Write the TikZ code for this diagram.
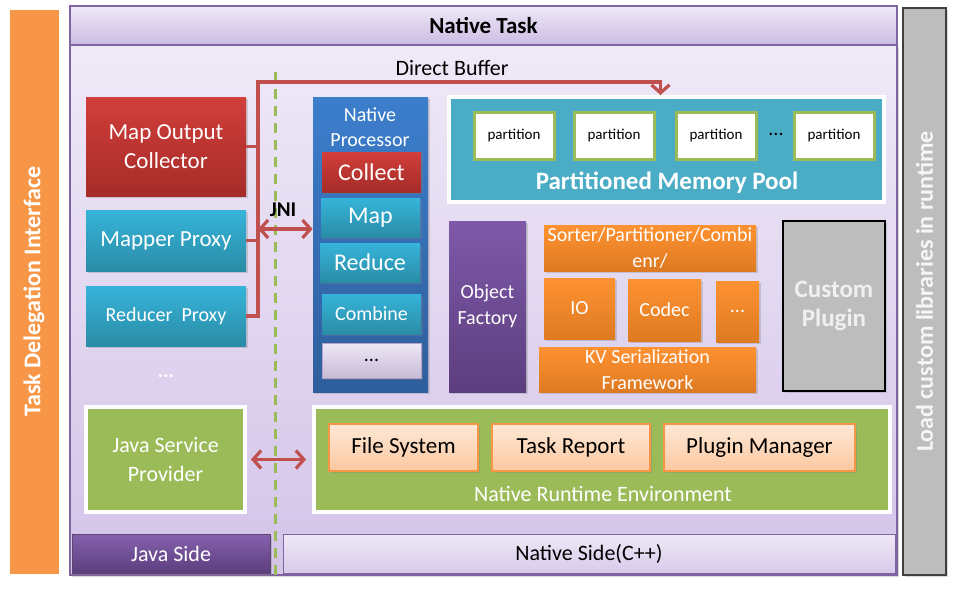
\documentclass[tikz,border=0pt]{standalone}
\usepackage{fontspec}
\setmainfont{Carlito}
\usetikzlibrary{arrows.meta}
\usetikzlibrary{shadows}
\tikzset{>={Straight Barb[length=4pt,width=9pt]}}
\definecolor{myred}{HTML}{C0504D}
\definecolor{redtop}{HTML}{D23E3A}
\definecolor{redbot}{HTML}{A52C29}
\definecolor{tealtop}{HTML}{36B4DA}
\definecolor{tealbot}{HTML}{2A8CA6}
\definecolor{bluetop}{HTML}{3C7ECC}
\definecolor{bluebot}{HTML}{2F5E9C}
\definecolor{purptop}{HTML}{7F59A9}
\definecolor{purpbot}{HTML}{5C3E7E}
\definecolor{orgtop}{HTML}{FF9232}
\definecolor{orgbot}{HTML}{DD7A22}
\definecolor{myorange}{HTML}{F79646}
\definecolor{mygreen}{HTML}{9BBB59}
\definecolor{pooltl}{HTML}{4BACC6}
\definecolor{mygray}{HTML}{BDBDBD}
\definecolor{framepurple}{HTML}{8064A2}
\definecolor{bodytop}{HTML}{EFE9F7}
\definecolor{bodybot}{HTML}{D3C4E8}
\definecolor{hdrtop}{HTML}{EFE8F7}
\definecolor{hdrbot}{HTML}{CBBCE2}
\definecolor{lortop}{HTML}{FEE8D6}
\definecolor{lorbot}{HTML}{FCC8A0}
\tikzset{
  area/.style n args={4}{minimum width={(#3-#1)/2}, minimum height={(#4-#2)/2},
    at={({(#1+#3)/2},{(#2+#4)/2})}},
  blk/.style={inner sep=0pt, align=center, text=white, font=\fontsize{11}{14}\selectfont},
  shd/.style={drop shadow={opacity=0.3,shadow xshift=1.2pt,shadow yshift=-1.2pt}},
  redblk/.style={blk, shd, top color=redtop, bottom color=redbot},
  tealblk/.style={blk, shd, top color=tealtop, bottom color=tealbot},
  orgblk/.style={blk, shd, top color=orgtop, bottom color=orgbot, font=\fontsize{10}{13}\selectfont},
  lorblk/.style={blk, shd, draw=myorange, line width=0.6pt, top color=lortop, bottom color=lorbot, text=black, font=\fontsize{11.5}{14}\selectfont},
  framed/.style={blk, shd, draw=white, line width=2pt, fill=mygreen},
  part/.style={blk, draw=mygreen, line width=1.5pt, fill=white, text=black, font=\fontsize{7.5}{9}\selectfont},
  sidetxt/.style={text=white, font=\bfseries\fontsize{12}{14}\selectfont},
  busline/.style={myred, line width=1.6pt},
  dblarr/.style={myred, line width=1.6pt, <->},
  dashline/.style={mygreen, line width=1.5pt, dash pattern=on 5pt off 3.5pt},
}

\begin{document}
\begin{tikzpicture}[x=0.5pt,y=-0.5pt]
  \useasboundingbox (0,0) rectangle (960,589);

  % SIDE BARS
  \node[shd, draw=white, line width=1.5pt, fill=myorange, inner sep=0pt, area={8}{8}{60}{575}] (tdi) {};
  \node[sidetxt, rotate=90] (tditxt) at (tdi.center) {Task Delegation Interface};
  \node[shd, draw=black!75, line width=0.6pt, fill=mygray, inner sep=0pt, area={903}{8}{946}{575}] (lcl) {};
  \node[sidetxt, text=white!93!gray, rotate=90] (lcltxt) at (lcl.center) {Load custom libraries in runtime};

  % NATIVE TASK FRAME
  \node[shd, draw=framepurple, line width=0.6pt, top color=bodytop, bottom color=bodybot, inner sep=0pt, area={70}{45}{897}{575}] (body) {};
  \node[draw=framepurple, line width=0.6pt, top color=hdrtop, bottom color=hdrbot, inner sep=0pt, area={70}{6}{897}{45},
    font=\bfseries\fontsize{11.5}{14}\selectfont] (hdr) {Native Task};
  \node[blk, shd, draw=framepurple!70!black, line width=0.5pt, top color=purptop!95!white, bottom color=purpbot, area={72}{534}{270}{573}] (jside) {Java Side};
  \node[blk, draw=framepurple, line width=0.5pt, top color=hdrtop, bottom color=bodybot!90!white, text=black, area={283}{534}{895}{573}] (nside) {Native Side(C++)};

  % DASHED LINE
  \coordinate (dtop) at (275,72);
  \coordinate (dbot) at (275,575);
  \draw[dashline] (dtop) -- (dbot);

  % JAVA SIDE
  \node[redblk, font=\fontsize{11.5}{14.5}\selectfont, area={86}{97}{246}{196}] (moc) {Map Output\\Collector};
  \node[tealblk, font=\fontsize{11.5}{14}\selectfont, area={86}{210}{246}{271}] (mapper) {Mapper Proxy};
  \node[tealblk, font=\fontsize{10}{13}\selectfont, area={86}{286}{246}{346}] (reducer) {Reducer~ Proxy};
  \node[text=white, font=\bfseries] (jdots) at (166,376) {...};
  \node[framed, font=\fontsize{11}{14.5}\selectfont, area={86}{407}{245}{512}] (jsp) {Java Service\\Provider};

  % NATIVE PROCESSOR
  \node[blk, shd, top color=bluetop, bottom color=bluebot, area={313}{97}{428}{392}] (nproc) {};
  \node[text=white, align=center, font=\fontsize{10}{12.5}\selectfont] (nptxt) at (370,127) {Native\\Processor};
  \node[redblk, font=\fontsize{12}{14}\selectfont, area={322}{152}{421}{192}] (collect) {Collect};
  \node[tealblk, font=\fontsize{12}{14}\selectfont, area={321}{198}{420}{237}] (map) {Map};
  \node[tealblk, font=\fontsize{12}{14}\selectfont, area={320}{243}{420}{282}] (reduce) {Reduce};
  \node[tealblk, font=\fontsize{10}{13}\selectfont, area={322}{294}{421}{334}] (combine) {Combine};
  \node[blk, shd, draw=framepurple!60, line width=0.5pt, top color=hdrtop, bottom color=framepurple!45!white, text=black,
    font=\fontsize{10}{13}\selectfont, area={322}{343}{421}{378}] (npdots) {...};

  % MEMORY POOL
  \node[framed, fill=pooltl, area={449}{97}{884}{202}] (pool) {};
  \node[part, area={474}{112}{554}{159}] (p1) {partition};
  \node[part, area={574}{112}{654}{159}] (p2) {partition};
  \node[part, area={676}{112}{756}{159}] (p3) {partition};
  \node[part, area={794}{112}{874}{159}] (p4) {partition};
  \node[font=\fontsize{10}{12}\selectfont] (pdots) at (776,134) {...};
  \node[text=white, font=\bfseries\fontsize{12.5}{14}\selectfont] (pooltxt) at (667,183) {Partitioned Memory Pool};

  % FACTORY AND FRAMEWORK
  \node[blk, shd, top color=purptop, bottom color=purpbot, font=\fontsize{10}{13}\selectfont, area={449}{221}{526}{392}] (objf) {Object\\Factory};
  \node[orgblk, area={544}{225}{756}{271}] (sorter) {Sorter/Partitioner/Combi\\enr/};
  \node[orgblk, area={544}{278}{615}{339}] (io) {IO};
  \node[orgblk, area={628}{279}{701}{341}] (codec) {Codec};
  \node[orgblk, area={716}{281}{759}{342}] (odots) {...};
  \node[orgblk, area={539}{347}{756}{392}] (kv) {KV Serialization\\Framework};
  \node[blk, shd, draw=black, line width=1.2pt, fill=mygray, text=white!88!gray,
    font=\bfseries\fontsize{12.5}{14.5}\selectfont, area={783}{221}{885}{391}] (cplug) {Custom\\Plugin};

  % RUNTIME
  \node[framed, area={314}{407}{890}{512}] (nre) {};
  \node[lorblk, area={329}{424}{478}{471}] (fs) {File System};
  \node[lorblk, area={492}{424}{650}{471}] (tr) {Task Report};
  \node[lorblk, area={664}{424}{855}{471}] (pm) {Plugin Manager};
  \node[text=white, font=\fontsize{11}{14}\selectfont] (nretxt) at (603,494) {Native Runtime Environment};

  % CONNECTORS
  \coordinate (bus) at (258,82);
  \coordinate (jni) at (258,229);
  \draw[busline] (moc.east) -- (moc.east -| bus);
  \draw[busline] (mapper.east) -- (mapper.east -| bus);
  \draw[busline, ->] (reducer.east) -- (reducer.east -| bus) -- (bus) -| ([xshift=-3pt]pool.north);
  \node[font=\fontsize{11}{14}\selectfont] (dbuf) at (452,68) {Direct Buffer};
  \draw[dblarr] (jni) -- (jni -| nproc.west);
  \node[font=\bfseries\fontsize{10.5}{12}\selectfont] (jnitxt) at (283,210) {JNI};
  \draw[dblarr, shorten <=2pt, shorten >=3pt] (jsp.east) -- (nre.west);

\end{tikzpicture}
\end{document}
